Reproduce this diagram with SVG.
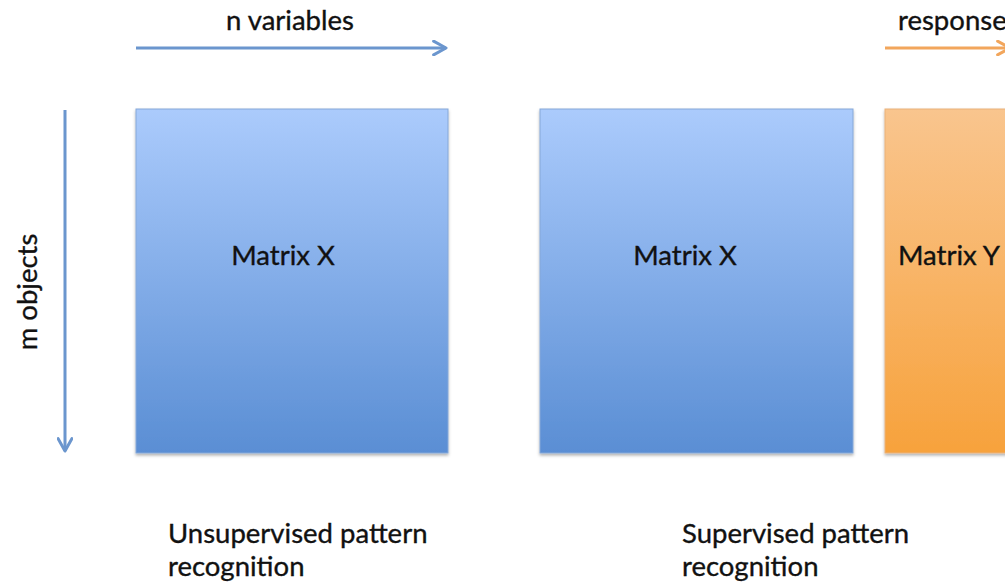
<svg xmlns="http://www.w3.org/2000/svg" width="1005" height="585" viewBox="0 0 1005 585">
  <style>
    .lbl { font-family: Lato, "Open Sans", "Liberation Sans", sans-serif; font-size: 27.5px; fill: #111; stroke: #111; stroke-width: 0.35; }
    .axis-blue { stroke: #6B96CE; stroke-width: 3; fill: none; }
    .axis-orange { stroke: #F2A65C; stroke-width: 3; fill: none; }
    .box-blue { fill: url(#gBlue); stroke: #86A8D8; stroke-width: 1; }
    .box-orange { fill: url(#gOrange); stroke: #E9B27A; stroke-width: 1; }
  </style>
  <defs>
    <linearGradient id="gBlue" x1="0" y1="0" x2="0" y2="1">
      <stop offset="0" stop-color="#ABCBFC"/>
      <stop offset="1" stop-color="#5A8ED4"/>
    </linearGradient>
    <linearGradient id="gOrange" x1="0" y1="0" x2="0" y2="1">
      <stop offset="0" stop-color="#F9C58E"/>
      <stop offset="1" stop-color="#F7A23C"/>
    </linearGradient>
    <filter id="shadow" x="-5%" y="-5%" width="110%" height="110%">
      <feDropShadow dx="0" dy="2" stdDeviation="1.5" flood-color="#000" flood-opacity="0.3"/>
    </filter>
    <marker id="headBlue" viewBox="0 0 12 12" refX="10" refY="6" markerWidth="5.5" markerHeight="5.5" orient="auto" markerUnits="strokeWidth">
      <path d="M1,1 L10,6 L1,11" fill="none" stroke="#6B96CE" stroke-width="2.2" stroke-linecap="round" stroke-linejoin="round"/>
    </marker>
    <marker id="headOrange" viewBox="0 0 12 12" refX="10" refY="6" markerWidth="5.5" markerHeight="5.5" orient="auto" markerUnits="strokeWidth">
      <path d="M1,1 L10,6 L1,11" fill="none" stroke="#F2A65C" stroke-width="2.2" stroke-linecap="round" stroke-linejoin="round"/>
    </marker>
  </defs>
  <rect width="1005" height="585" fill="#fff"/>

  <!-- axis arrows -->
  <g id="connectors">
    <line class="axis-blue" x1="136" y1="48" x2="446" y2="48" marker-end="url(#headBlue)"/>
    <line class="axis-blue" x1="65" y1="110" x2="65" y2="451" marker-end="url(#headBlue)"/>
    <line class="axis-orange" x1="885" y1="48" x2="1010" y2="48" marker-end="url(#headOrange)"/>
  </g>

  <!-- axis labels -->
  <text class="lbl" x="290" y="30" text-anchor="middle">n variables</text>
  <text class="lbl" x="898" y="30">response</text>
  <text class="lbl" transform="translate(37,292) rotate(-90)" text-anchor="middle">m objects</text>

  <!-- matrices -->
  <g id="matrix-x-unsupervised">
    <rect class="box-blue" x="136" y="109" width="312" height="344" filter="url(#shadow)"/>
    <text class="lbl" x="283" y="265" text-anchor="middle">Matrix X</text>
  </g>
  <g id="matrix-x-supervised">
    <rect class="box-blue" x="540" y="109" width="313" height="344" filter="url(#shadow)"/>
    <text class="lbl" x="685" y="265" text-anchor="middle">Matrix X</text>
  </g>
  <g id="matrix-y">
    <rect class="box-orange" x="885" y="109" width="140" height="344" filter="url(#shadow)"/>
    <text class="lbl" x="898" y="265">Matrix Y</text>
  </g>

  <!-- captions -->
  <g id="caption-unsupervised">
    <text class="lbl" x="168" y="543">Unsupervised pattern</text>
    <text class="lbl" x="168" y="576">recognition</text>
  </g>
  <g id="caption-supervised">
    <text class="lbl" x="682" y="543">Supervised pattern</text>
    <text class="lbl" x="682" y="576">recognition</text>
  </g>
</svg>
